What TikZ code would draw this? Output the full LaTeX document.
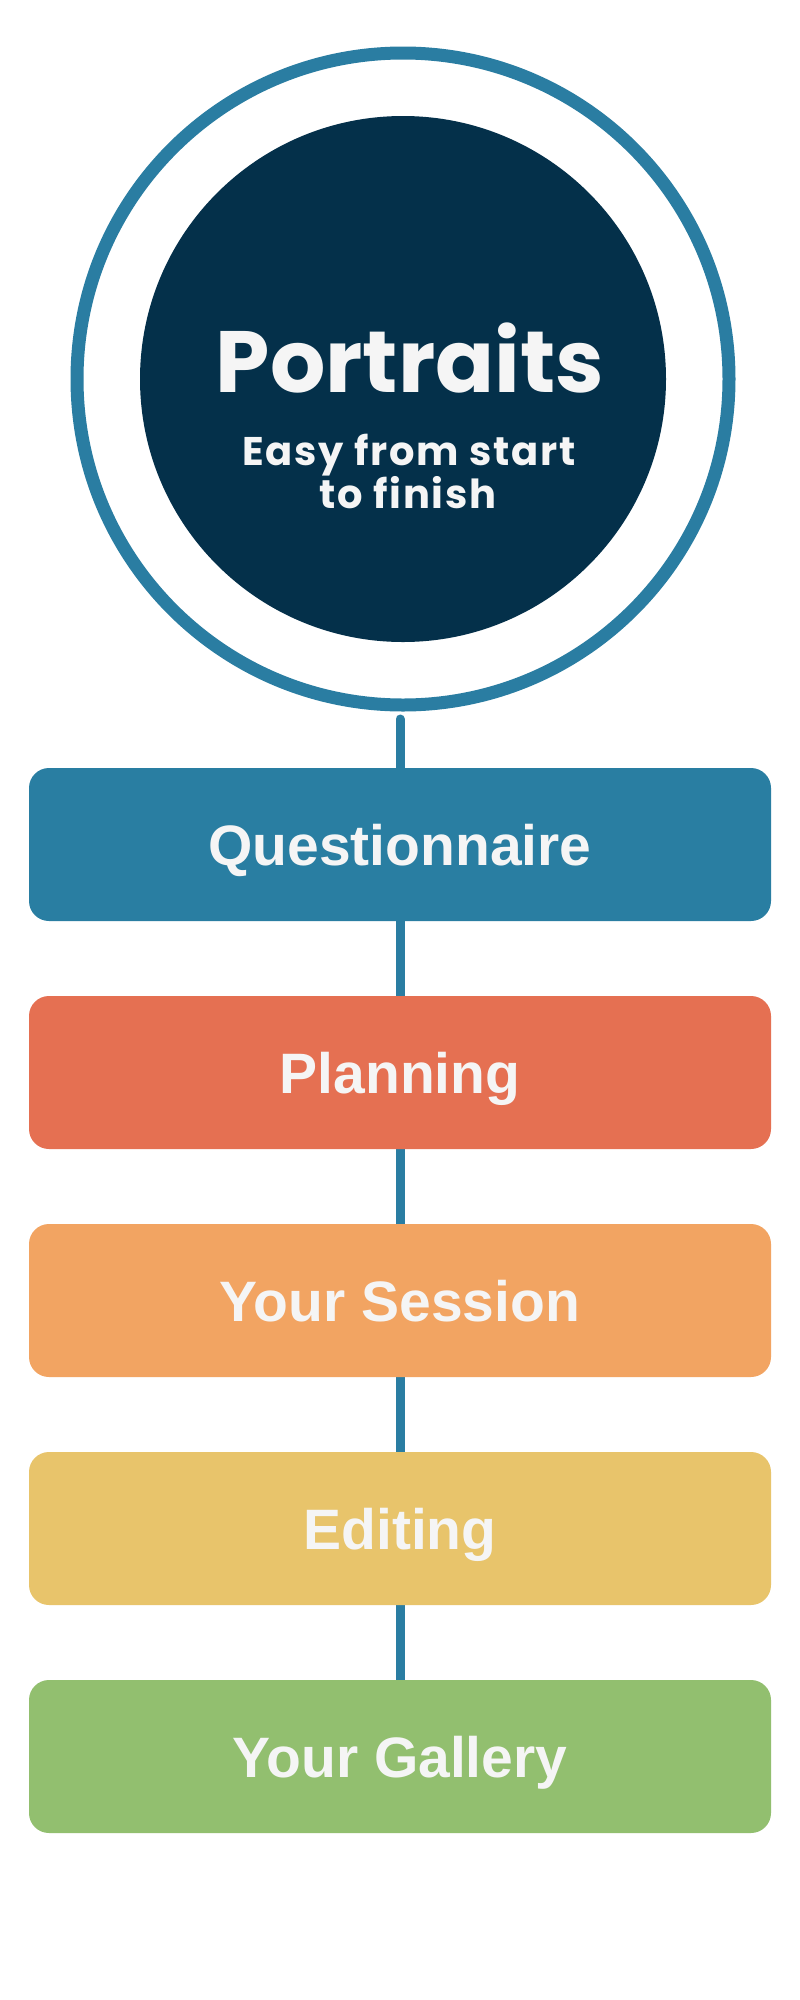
\documentclass[tikz,border=0pt]{standalone}
\usepackage{fontspec}
\setmainfont{Liberation Sans}
\newfontfamily\popfont{Poppins}
\newfontfamily\popsub{Poppins}[LetterSpace=4.5]
\usetikzlibrary{backgrounds}
\definecolor{ringblue}{HTML}{2A7DA2}
\definecolor{navy}{HTML}{04304A}
\definecolor{cA}{HTML}{297EA2}
\definecolor{cB}{HTML}{E57052}
\definecolor{cC}{HTML}{F2A462}
\definecolor{cD}{HTML}{E8C46B}
\definecolor{cE}{HTML}{92BF6F}
\definecolor{offwhite}{HTML}{F5F5F5}
\begin{document}
\begin{tikzpicture}[x=1pt,y=-1pt,
  stepbox/.style={rectangle, rounded corners=20pt, minimum width=742pt,
    minimum height=153pt, inner sep=0pt, outer sep=0pt, text=offwhite,
    font=\fontsize{57}{60}\selectfont\bfseries, text height=41pt, text depth=0pt},
  link/.style={draw=ringblue, line width=9pt},
  titletext/.style={anchor=base, text=offwhite, inner sep=0pt}]
\useasboundingbox (0,0) rectangle (800,2000);
\node[circle, draw=ringblue, line width=13pt, minimum size=652pt, inner sep=0pt, outer sep=0pt] (ring) at (403,379) {};
\node[circle, fill=navy, minimum size=526pt, inner sep=0pt, outer sep=0pt] (core) at (403,379) {};
\node[titletext, font=\popfont\bfseries\fontsize{87}{87}\selectfont] (title) at (410,392) {Portraits};
\node[titletext, font=\popsub\bfseries\fontsize{40}{40}\selectfont] (subA) at (409,465) {Easy from start};
\node[titletext, font=\popsub\bfseries\fontsize{40}{40}\selectfont] (subB) at (408,508) {to finish};
\node[stepbox, fill=cA] (q) at (400,844.5) {Questionnaire};
\node[stepbox, fill=cB] (p) at (400,1072.5) {Planning};
\node[stepbox, fill=cC] (s) at (400,1300.5) {Your Session};
\node[stepbox, fill=cD] (e) at (400,1528.5) {Editing};
\node[stepbox, fill=cE] (g) at (400,1756.5) {Your Gallery};
\coordinate (lt) at ([xshift=-3pt,yshift=-14pt]ring.south);
\begin{scope}[on background layer]
\fill[white] (0,0) rectangle (800,2000);
\draw[link, line cap=round] (lt) -- (g.north);
\end{scope}
\end{tikzpicture}
\end{document}
